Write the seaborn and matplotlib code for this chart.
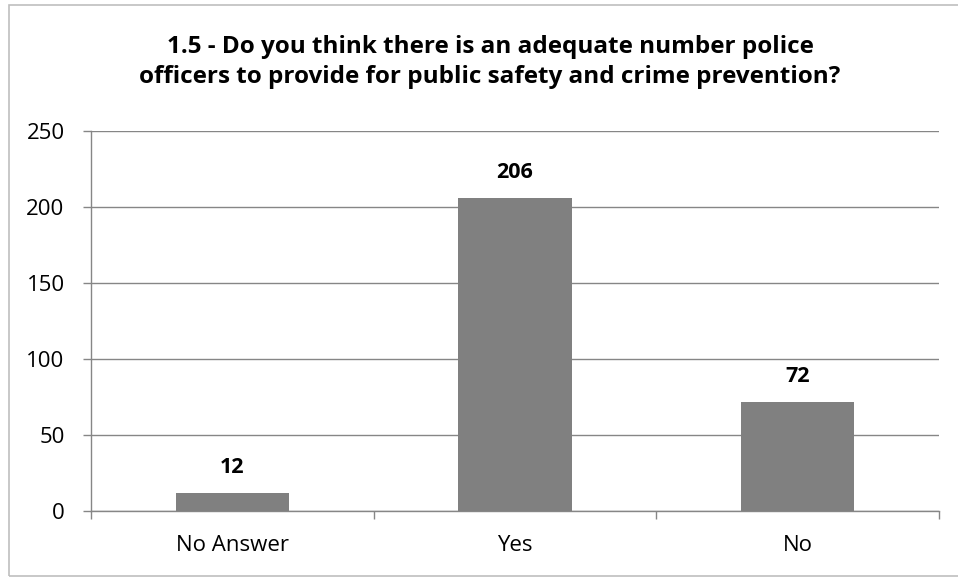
import matplotlib
matplotlib.use("Agg")
import matplotlib.pyplot as plt
import seaborn as sns
import pandas as pd
from matplotlib.patches import Rectangle

# data
categories = ["No Answer", "Yes", "No"]
counts = [12, 206, 72]
title = ("1.5 - Do you think there is an adequate number police\n"
         "officers to provide for public safety and crime prevention?")

sns.set_theme(style="white")
plt.rcParams['font.family'] = ['Open Sans', 'DejaVu Sans']
plt.rcParams['text.color'] = 'black'

df = pd.DataFrame({"category": categories, "count": counts})

fig = plt.figure(figsize=(9.58, 5.77), dpi=100)
ax = fig.add_axes([91 / 958, 1 - 511 / 577, (939 - 91) / 958, (511 - 131) / 577])

sns.barplot(data=df, x="category", y="count", color="#808080",
            saturation=1, width=0.4, linewidth=0, ax=ax, zorder=3)

ax.set_xlim(-0.5, len(categories) - 0.5)
ax.set_ylim(0, 250)
ax.set_yticks(range(0, 251, 50))
ax.set_xlabel("")
ax.set_ylabel("")

grid_c = "#868686"
ax.yaxis.grid(True, color=grid_c, linewidth=1.0, zorder=0)
for s in ["top", "right"]:
    ax.spines[s].set_visible(False)
for s in ["left", "bottom"]:
    ax.spines[s].set_color(grid_c)
    ax.spines[s].set_linewidth(1.0)

ax.tick_params(axis="y", which="major", left=True, length=6, width=1,
               color=grid_c, labelsize=16, pad=13, labelcolor="black")
ax.tick_params(axis="x", which="major", bottom=False, labelsize=16,
               pad=11, labelcolor="black")
ax.set_xticks([i - 0.5 for i in range(len(categories) + 1)], minor=True)
ax.tick_params(axis="x", which="minor", bottom=True, length=6, width=1,
               color=grid_c)

for i, v in enumerate(counts):
    ax.annotate(str(v), (i, v), xytext=(0, 14.4), textcoords="offset points",
                ha="center", va="baseline", fontsize=15.5, fontweight="bold",
                color="black")

fig.text(490 / 958, 1 - 62 / 577, title, ha="center", va="center",
         fontsize=17.5, fontweight="bold", linespacing=1.3, color="black")

# light border around the chart area
fig.patches.append(Rectangle((9 / 958, 1 - 576 / 577), 1.1, (576 - 5) / 577,
                             transform=fig.transFigure, fill=False,
                             edgecolor="#bfbfbf", linewidth=1.2))

fig.savefig("out.png", dpi=100)
